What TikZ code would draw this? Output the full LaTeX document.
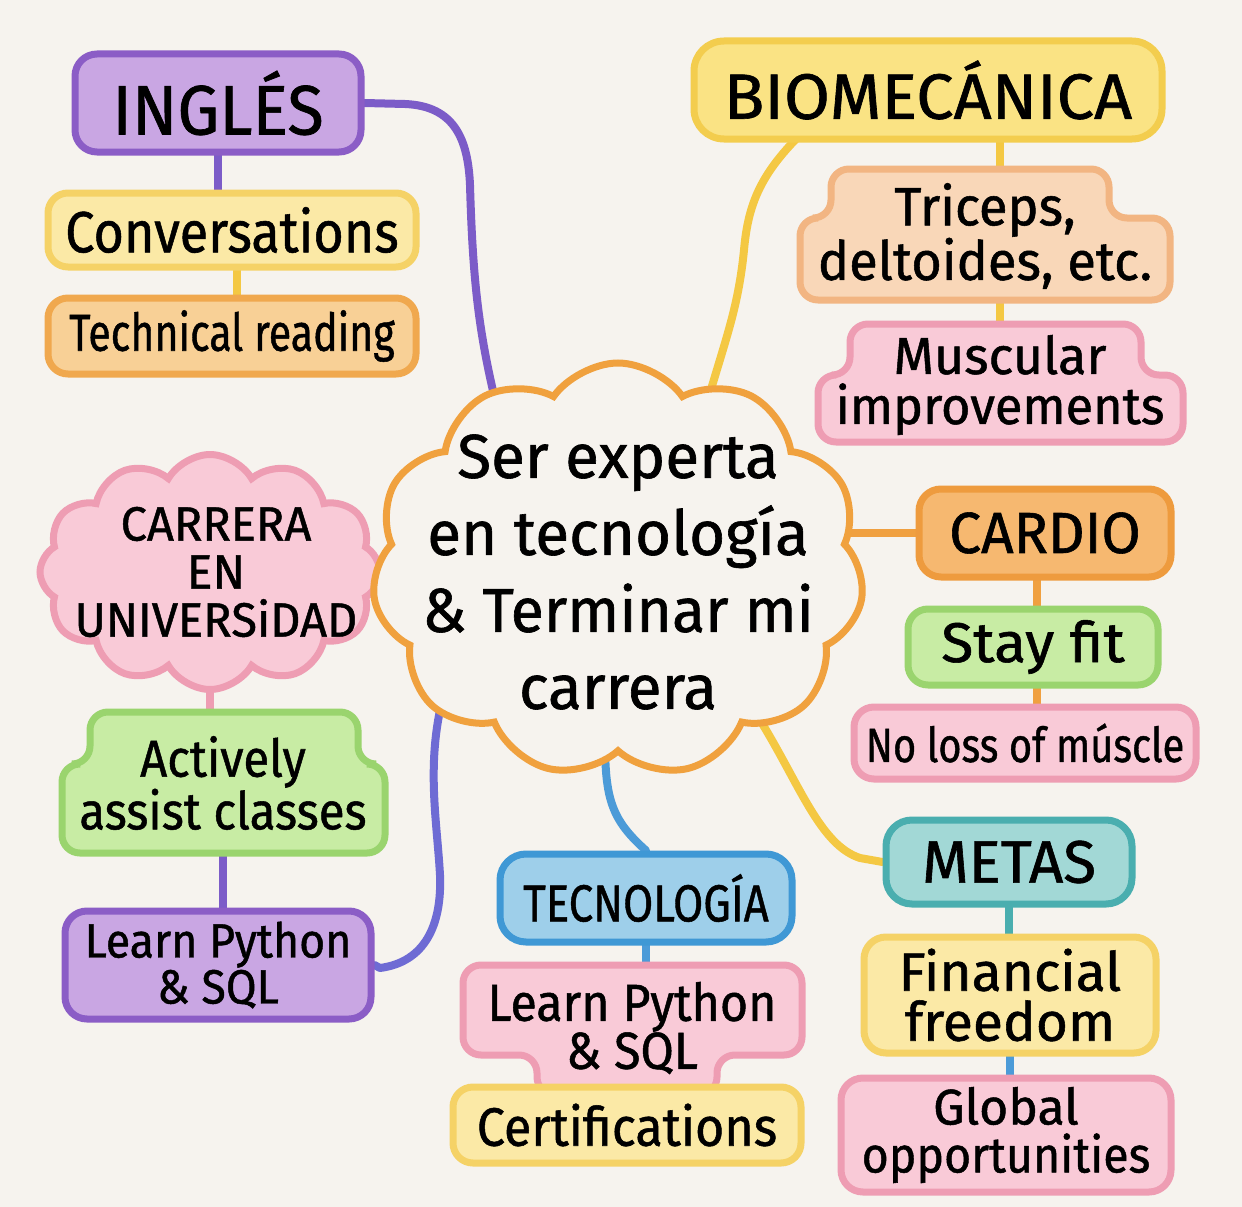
\documentclass[tikz,border=0pt]{standalone}
\usepackage{fontspec}
\setmainfont{Fira Sans}[FakeBold=1]
\usepackage{graphicx}
\usetikzlibrary{shapes.symbols,backgrounds}
\definecolor{bg}{HTML}{F6F3EE}
\definecolor{purD}{HTML}{8B5DC6}\definecolor{purL}{HTML}{C9A6E3}
\definecolor{yelD}{HTML}{F5D266}\definecolor{yelL}{HTML}{FBE9A6}
\definecolor{bioD}{HTML}{F3CD4E}\definecolor{bioL}{HTML}{FAE384}
\definecolor{oraD}{HTML}{F0A84E}\definecolor{oraL}{HTML}{F8D096}
\definecolor{peaD}{HTML}{F2B582}\definecolor{peaL}{HTML}{F9D7B8}
\definecolor{pinD}{HTML}{EE9DB3}\definecolor{pinL}{HTML}{F9CAD7}
\definecolor{greD}{HTML}{9AD46E}\definecolor{greL}{HTML}{C8ECA4}
\definecolor{teaD}{HTML}{4AAEAF}\definecolor{teaL}{HTML}{A2D8D6}
\definecolor{bluD}{HTML}{3F98D5}\definecolor{bluL}{HTML}{9ECFEA}
\definecolor{carD}{HTML}{EE9B3E}\definecolor{carL}{HTML}{F6B870}
\definecolor{cloD}{HTML}{F0A13E}
\definecolor{purC}{HTML}{7C5CC8}\definecolor{indC}{HTML}{6E6BD4}
\definecolor{yelC}{HTML}{F4C843}\definecolor{oraC}{HTML}{F0A040}
\definecolor{bluC}{HTML}{4C9BD8}\definecolor{teaC}{HTML}{4AAEAF}
\definecolor{pinC}{HTML}{EE9DB3}
\newcommand\myfs[2]{\fontsize{#1}{#2}\selectfont}
\newcommand\sx[2]{\scalebox{#1}[1]{#2}}
\begin{document}
\begin{tikzpicture}[x=1pt,y=-1pt,
  box/.style={draw, rounded corners=22pt, line width=7pt, inner sep=0pt, align=center, text=black},
  txt/.style={inner sep=0pt, align=center, text=black},
  shp/.style={line width=7pt, rounded corners=18pt},
  cloudbox/.style={cloud, cloud ignores aspect, line width=7pt, inner sep=0pt},
  conn/.style={line width=8pt, line cap=round, line join=round}]
\useasboundingbox (0,0) rectangle (1242,1207);

% ---------- left column
\node[box, draw=purD, fill=purL, minimum width=286, minimum height=98, font=\myfs{70}{72}] (ing) at (218,103) {\sx{0.95}{INGLÉS}};
\node[box, draw=yelD, fill=yelL, minimum width=368, minimum height=74, rounded corners=20pt, font=\myfs{58}{60}] (conv) at (232,230) {\sx{0.9}{Conversations}};
\node[box, draw=oraD, fill=oraL, minimum width=368, minimum height=76, rounded corners=20pt, font=\myfs{52}{54}] (tech) at (232,336) {\sx{0.79}{Technical reading}};

\node[cloudbox, cloud puffs=12, cloud puff arc=120, draw=pinD, fill=pinL, minimum width=340, minimum height=235] (carS) at (210,572) {};
\node[txt, font=\myfs{48}{48}] (car) at (216,572) {\sx{0.98}{CARRERA}\\EN\\\sx{0.98}{UNIVERSiDAD}};

\draw[shp, draw=greD, fill=greL] (225,712) -- (358,712) -- (358,764) -- (385,764) -- (385,853) -- (62,853) -- (62,764) -- (90,764) -- (90,712) -- cycle;
\node[txt, minimum width=323, minimum height=141, font=\myfs{52}{50}] (act) at (223,783) {\sx{0.91}{Actively}\\\sx{0.91}{assist classes}};

\node[box, draw=purD, fill=purL, minimum width=306, minimum height=108, font=\myfs{48}{46}] (pyl) at (218,965) {\sx{0.93}{Learn Python}\\\sx{0.93}{\& SQL}};

% ---------- right column
\node[box, draw=bioD, fill=bioL, minimum width=468, minimum height=98, rounded corners=30pt, font=\myfs{64}{66}] (bio) at (928,90) {\sx{1.04}{BIOMECÁNICA}};

\draw[shp, draw=peaD, fill=peaL] (970,169) -- (1109,169) -- (1109,218) -- (1170,218) -- (1170,300) -- (800,300) -- (800,218) -- (831,218) -- (831,169) -- cycle;
\node[txt, minimum width=370, minimum height=131, font=\myfs{54}{53}] (tri) at (985,236) {\sx{0.97}{Triceps,}\\\sx{0.97}{deltoides, etc.}};

\draw[shp, draw=pinD, fill=pinL] (995,324) -- (1141,324) -- (1141,375) -- (1183,375) -- (1183,442) -- (818,442) -- (818,375) -- (850,375) -- (850,324) -- cycle;
\node[txt, minimum width=365, minimum height=118, font=\myfs{52}{50}] (mus) at (1000,385) {Muscular\\\sx{0.97}{improvements}};

\node[box, draw=carD, fill=carL, minimum width=252, minimum height=88, font=\myfs{58}{60}] (card) at (1045,533) {\sx{0.98}{CARDIO}};
\node[box, draw=greD, fill=greL, minimum width=250, minimum height=76, rounded corners=20pt, font=\myfs{56}{58}] (fit) at (1033,647) {\sx{1.05}{Stay fit}};
\node[box, draw=pinD, fill=pinL, minimum width=342, minimum height=72, rounded corners=20pt, font=\myfs{48}{50}] (loss) at (1025,743) {\sx{0.83}{No loss of múscle}};

\node[box, draw=teaD, fill=teaL, minimum width=246, minimum height=84, rounded corners=26pt, font=\myfs{60}{62}] (met) at (1009,862) {METAS};
\node[box, draw=yelD, fill=yelL, minimum width=292, minimum height=116, font=\myfs{54}{50}] (fin) at (1010,995) {\sx{1.02}{Financial}\\\sx{1.02}{freedom}};
\node[box, draw=pinD, fill=pinL, minimum width=330, minimum height=114, font=\myfs{50}{48}] (glob) at (1006,1135) {Global\\\sx{0.93}{opportunities}};

% ---------- bottom middle
\node[box, draw=bluD, fill=bluL, minimum width=292, minimum height=88, rounded corners=26pt, font=\myfs{52}{54}] (tec) at (646,898) {\sx{0.84}{TECNOLOGÍA}};
\draw[shp, draw=pinD, fill=pinL] (630,965) -- (802,965) -- (802,1055) -- (717,1055) -- (717,1095) -- (537,1095) -- (537,1055) -- (463,1055) -- (463,965) -- cycle;
\node[txt, minimum width=339, minimum height=125, font=\myfs{52}{48}] (pyb) at (632,1028) {\sx{0.93}{Learn Python}\\\sx{0.93}{\& SQL}};
\node[box, draw=yelD, fill=yelL, minimum width=348, minimum height=76, rounded corners=20pt, font=\myfs{54}{56}] (cert) at (627,1125) {\sx{0.93}{Certifications}};

% ---------- center cloud
\node[cloudbox, cloud puffs=11, cloud puff arc=110, draw=cloD, fill=bg, minimum width=492, minimum height=414] (ctrS) at (618,570) {};
\node[txt, font=\myfs{62}{77}] (ctr) at (618,572) {Ser experta\\en tecnología\\\sx{0.98}{\& Terminar mi}\\carrera};

\coordinate (cIng) at (500,420);
\coordinate (cBio) at (705,410);
\coordinate (cMet) at (760,720);
\coordinate (cTec) at (605,740);
\coordinate (cPy) at (445,690);

\begin{pgfonlayer}{background}
\fill[bg] (0,0) rectangle (1242,1207);
\draw[conn, purC] (ing.east) -- (405,104) .. controls (455,106) and (468,140) .. (470,185) .. controls (473,290) and (480,340) .. (cIng);
\draw[conn, purC] (ing.south) -- (ing.south |- conv.north);
\draw[conn, yelC] ([xshift=5pt]conv.south) -- ([xshift=5pt]conv.south |- tech.north);
\draw[conn, yelC] (800,135) .. controls (760,175) and (748,205) .. (744,250) .. controls (738,310) and (725,340) .. (cBio);
\draw[conn, yelC] ([xshift=72pt]bio.south) -- ([xshift=15pt]tri.north);
\draw[conn, yelC] ([xshift=15pt]tri.south) -- ([xshift=0pt]mus.north);
\draw[conn, oraC] (ctr.center |- card.west) -- (card.west);
\draw[conn, oraC] ([xshift=-8pt]card.south) -- ([xshift=4pt]fit.north);
\draw[conn, oraC] ([xshift=4pt]fit.south) -- ([xshift=12pt]loss.north);
\draw[conn, yelC] (cMet) .. controls (800,785) and (820,845) .. (860,858) -- (met.west);
\draw[conn, bluC] (cTec) .. controls (605,800) and (612,820) .. (tec.north);
\draw[conn, bluC] (tec.south) -- (tec.south |- pyb.north);
\draw[conn, teaC] (met.south) -- (met.south |- fin.north);
\draw[conn, bluC] (fin.south) -- (fin.south |- glob.north);
\draw[conn, pinC] (carS.south) -- (carS.south |- act.north);
\draw[conn, purC] (act.south) -- (act.south |- pyl.north);
\draw[conn, indC] (pyl.east) -- (380,968) .. controls (425,962) and (442,925) .. (440,875) .. controls (437,820) and (425,760) .. (cPy);
\end{pgfonlayer}
\end{tikzpicture}
\end{document}
